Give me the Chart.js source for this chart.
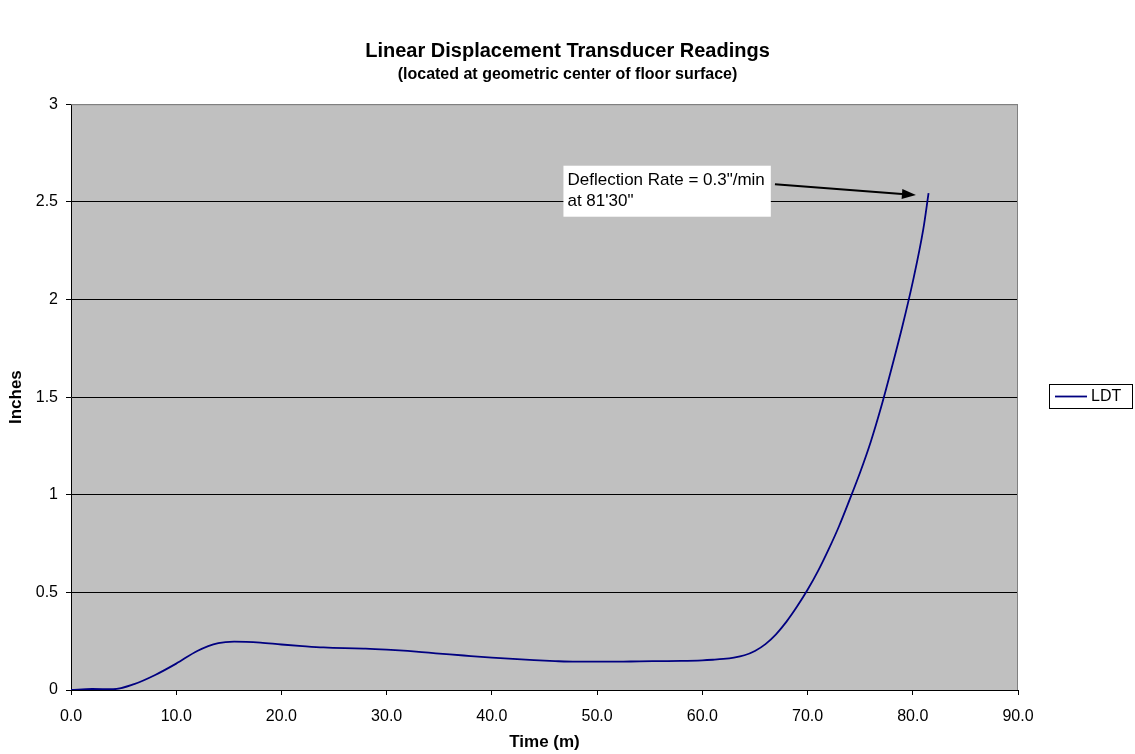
<!DOCTYPE html>
<html>
<head>
<meta charset="utf-8">
<script src="https://cdn.jsdelivr.net/npm/chart.js@4.4.1/dist/chart.umd.min.js"></script>
<style>
  body { margin: 0; background: #fff; }
  #wrap { width: 1135px; height: 754px; position: relative; }
</style>
</head>
<body>
<div id="wrap"><canvas id="ldtChart"></canvas></div>
<script>
// time in minutes
const timeMin = [0, 2, 4, 6, 8, 10, 12, 14, 15.5, 18, 20, 22, 24, 26, 28, 30, 32, 34, 36, 38, 40,
  42, 44, 46, 48, 50, 52, 54, 56, 58, 60, 61, 62, 63, 64, 65, 66, 67, 68, 69, 70, 71, 72, 73, 74,
  75, 76, 77, 78, 79, 80, 81, 81.5];
// LDT reading in inches
const ldtInches = [0, 0.005, 0.004, 0.03, 0.077, 0.135, 0.2, 0.24, 0.248, 0.243, 0.233, 0.225, 0.218, 0.214, 0.212, 0.207, 0.2, 0.191, 0.182, 0.174, 0.166,
  0.159, 0.153, 0.148, 0.145, 0.145, 0.145, 0.147, 0.148, 0.149, 0.152, 0.155, 0.159, 0.166, 0.178, 0.2, 0.235, 0.285, 0.35, 0.427, 0.513, 0.61, 0.72, 0.84, 0.975,
  1.115, 1.27, 1.45, 1.65, 1.86, 2.09, 2.36, 2.544];

const xTicks = [0, 10, 20, 30, 40, 50, 60, 70, 80, 90];
const yTicks = [0, 0.5, 1, 1.5, 2, 2.5, 3];

// callout text and where it sits (data coordinates)
const noteLines = ['Deflection Rate = 0.3"/min', "at 81'30\""];
const noteAt = [46.8, 2.685];
const arrowFrom = [66.9, 2.59];
const arrowTo = [80.3, 2.535];

const FONT = '"Liberation Sans", Arial, sans-serif';

// grey plot area, grey top/right frame
const plotBg = {
  id: 'plotBg',
  beforeDraw(chart) {
    const { ctx, chartArea: a } = chart;
    ctx.save();
    ctx.fillStyle = '#c0c0c0';
    ctx.fillRect(a.left, a.top, a.right - a.left, a.bottom - a.top);
    ctx.restore();
  },
  afterDatasetsDraw(chart) {
    const { ctx, chartArea: a } = chart;
    ctx.save();
    ctx.strokeStyle = '#808080';
    ctx.lineWidth = 1;
    ctx.beginPath();
    ctx.moveTo(a.left, a.top + 0.5);
    ctx.lineTo(a.right - 0.5, a.top + 0.5);
    ctx.lineTo(a.right - 0.5, a.bottom);
    ctx.stroke();
    ctx.restore();
  }
};

// text box + arrow
const callout = {
  id: 'callout',
  afterDatasetsDraw(chart) {
    const { ctx, scales: { x, y } } = chart;
    ctx.save();
    ctx.font = '17px ' + FONT;
    const left = x.getPixelForValue(noteAt[0]);
    const top = y.getPixelForValue(noteAt[1]);
    const w = Math.max(...noteLines.map(t => ctx.measureText(t).width)) + 10;
    const lh = 21;
    const h = lh * noteLines.length + 9;
    ctx.fillStyle = '#fff';
    ctx.fillRect(left, top, w, h);
    ctx.fillStyle = '#000';
    ctx.textBaseline = 'middle';
    noteLines.forEach((t, i) => ctx.fillText(t, left + 4, top + 15 + i * lh));

    const x0 = x.getPixelForValue(arrowFrom[0]), y0 = y.getPixelForValue(arrowFrom[1]);
    const x1 = x.getPixelForValue(arrowTo[0]), y1 = y.getPixelForValue(arrowTo[1]);
    const ang = Math.atan2(y1 - y0, x1 - x0);
    const hl = 14, hw = 5;
    const bx = x1 - hl * Math.cos(ang), by = y1 - hl * Math.sin(ang);
    ctx.strokeStyle = '#000';
    ctx.lineWidth = 2;
    ctx.beginPath();
    ctx.moveTo(x0, y0);
    ctx.lineTo(bx, by);
    ctx.stroke();
    ctx.beginPath();
    ctx.moveTo(x1, y1);
    ctx.lineTo(bx + hw * Math.sin(ang), by - hw * Math.cos(ang));
    ctx.lineTo(bx - hw * Math.sin(ang), by + hw * Math.cos(ang));
    ctx.closePath();
    ctx.fill();
    ctx.restore();
  }
};

// boxed legend on the right
const boxLegend = {
  id: 'boxLegend',
  afterDraw(chart) {
    const { ctx, chartArea: a } = chart;
    const ds = chart.data.datasets[0];
    const left = a.right + 31, w = 83, h = 24;
    const top = Math.round((a.top + a.bottom) / 2 - h / 2) - 1;
    ctx.save();
    ctx.fillStyle = '#fff';
    ctx.fillRect(left, top, w, h);
    ctx.strokeStyle = '#000';
    ctx.lineWidth = 1;
    ctx.strokeRect(left + 0.5, top + 0.5, w, h);
    ctx.strokeStyle = ds.borderColor;
    ctx.lineWidth = 1.8;
    ctx.beginPath();
    ctx.moveTo(left + 6, top + 12.5);
    ctx.lineTo(left + 38, top + 12.5);
    ctx.stroke();
    ctx.fillStyle = '#000';
    ctx.font = '16px ' + FONT;
    ctx.textBaseline = 'middle';
    ctx.fillText(ds.label, left + 42, top + 13);
    ctx.restore();
  }
};

const ctx = document.getElementById('ldtChart').getContext('2d');
new Chart(ctx, {
  type: 'line',
  data: {
    datasets: [{
      label: 'LDT',
      data: timeMin.map((t, i) => ({ x: t, y: ldtInches[i] })),
      borderColor: '#000080',
      borderWidth: 1.8,
      pointRadius: 0,
      cubicInterpolationMode: 'monotone',
      fill: false
    }]
  },
  options: {
    responsive: true,
    maintainAspectRatio: false,
    animation: false,
    layout: { padding: 0 },
    plugins: {
      legend: { display: false },
      tooltip: { enabled: false },
      title: {
        display: true,
        text: 'Linear Displacement Transducer Readings',
        color: '#000',
        font: { family: FONT, size: 20, weight: 'bold', lineHeight: 1.2 },
        padding: { top: 39, bottom: 0 }
      },
      subtitle: {
        display: true,
        text: '(located at geometric center of floor surface)',
        color: '#000',
        font: { family: FONT, size: 16, weight: 'bold', lineHeight: 1.2 },
        padding: { top: 2, bottom: 20 }
      }
    },
    scales: {
      x: {
        type: 'linear',
        min: 0,
        max: 90,
        afterBuildTicks: s => { s.ticks = xTicks.map(v => ({ value: v })); },
        afterFit: s => { s.height = 64; },
        ticks: {
          color: '#000',
          font: { family: FONT, size: 16 },
          padding: 12,
          maxRotation: 0,
          callback: v => v.toFixed(1)
        },
        grid: { drawOnChartArea: false, drawTicks: true, tickLength: 5, tickColor: '#000' },
        border: { color: '#000', width: 1 },
        title: {
          display: true,
          text: 'Time (m)',
          color: '#000',
          font: { family: FONT, size: 17, weight: 'bold', lineHeight: 1.2 },
          padding: { top: 0, bottom: 1 }
        }
      },
      y: {
        min: 0,
        max: 3,
        afterBuildTicks: s => { s.ticks = yTicks.map(v => ({ value: v })); },
        afterFit: s => { s.width = 71; },
        ticks: {
          color: '#000',
          font: { family: FONT, size: 16 },
          padding: 8,
          callback: v => String(v)
        },
        grid: {
          color: c => (c.tick && c.tick.value === 3 ? '#808080' : '#000'),
          lineWidth: 1,
          drawTicks: true,
          tickLength: 5,
          tickColor: '#000'
        },
        border: { color: '#000', width: 1 },
        title: {
          display: true,
          text: 'Inches',
          color: '#000',
          font: { family: FONT, size: 17, weight: 'bold', lineHeight: 1.2 },
          padding: { top: 6, bottom: 0 }
        }
      },
      // empty axis that only keeps the legend column free
      legendSpace: {
        type: 'linear',
        position: 'right',
        min: 0,
        max: 1,
        afterFit: s => { s.width = 117; },
        ticks: { display: false },
        grid: { display: false },
        border: { display: false }
      }
    }
  },
  plugins: [plotBg, callout, boxLegend]
});
</script>
</body>
</html>
